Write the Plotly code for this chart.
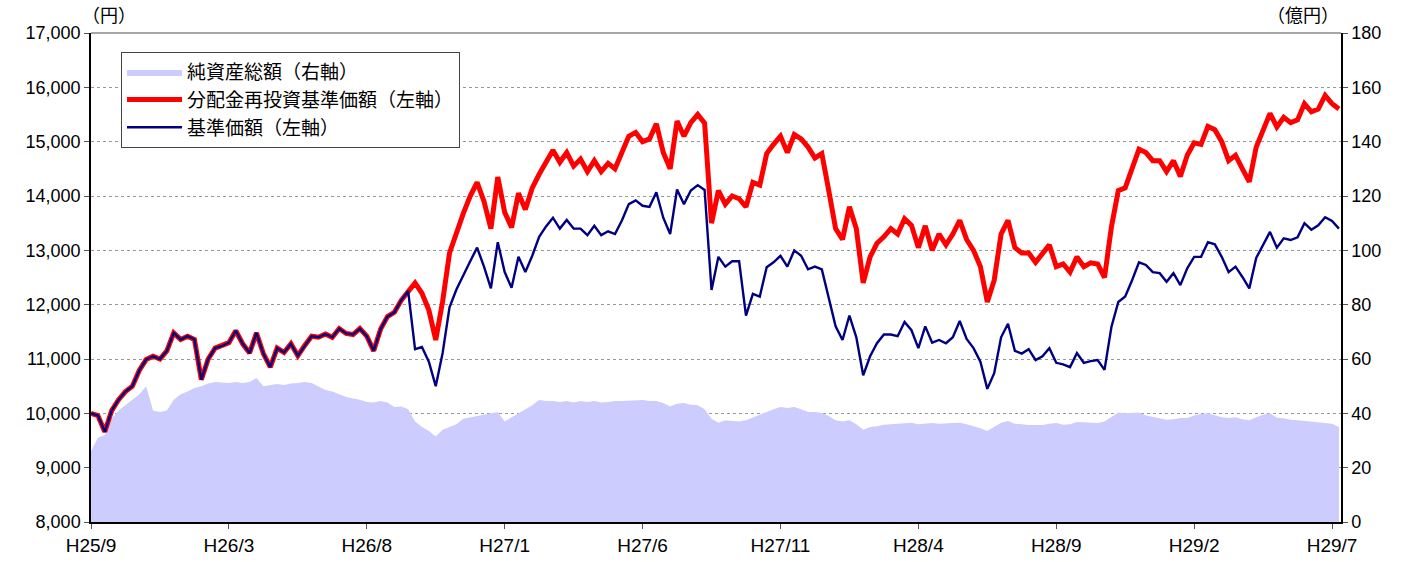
import plotly.graph_objects as go

tick_labels = ["H25/9", "H26/3", "H26/8", "H27/1", "H27/6", "H27/11", "H28/4", "H28/9", "H29/2", "H29/7"]
tick_index = [0, 20, 40, 60, 80, 100, 120, 140, 160, 180]

# 分配金再投資基準価額 (円)
reinvested = [
    10000, 9960, 9660, 10050, 10250, 10400, 10500, 10790, 10990, 11050,
    11000, 11150, 11480, 11360, 11420, 11360, 10620, 11000, 11200, 11240,
    11300, 11520, 11280, 11110, 11480, 11100, 10850, 11200, 11120, 11280,
    11060, 11250, 11420, 11400, 11460, 11400, 11560, 11470, 11450, 11560,
    11420, 11150, 11550, 11780, 11860, 12080, 12250, 12400, 12210, 11900,
    11350, 12060, 12950, 13350, 13680, 14000, 14250, 13900, 13400, 14350,
    13700, 13420, 14050, 13750, 14150, 14400, 14620, 14840, 14620, 14800,
    14550, 14680, 14450, 14650, 14450, 14600, 14500, 14780, 15100, 15170,
    15000, 15050, 15330, 14800, 14500, 15380, 15100, 15350, 15500, 15340,
    13500, 14100, 13850, 14000, 13950, 13800, 14250, 14200, 14780, 14950,
    15100, 14800, 15130, 15050, 14900, 14700, 14780, 14100, 13400, 13200,
    13800, 13400, 12400, 12880, 13130, 13250, 13400, 13300, 13580, 13460,
    13050, 13450, 13000, 13300, 13100, 13300, 13550, 13200, 13000, 12700,
    12050, 12450, 13300, 13550, 13050, 12950, 12950, 12780, 12950, 13100,
    12700, 12750, 12600, 12880, 12700, 12770, 12750, 12500, 13430, 14100,
    14150, 14530, 14860, 14800, 14650, 14650, 14450, 14650, 14360, 14750,
    14980, 14950, 15280, 15220, 15000, 14650, 14750, 14500, 14260, 14900,
    15200, 15520, 15270, 15450, 15350, 15400, 15700, 15550, 15600, 15850,
    15700, 15600,
]

# 基準価額 (円)
nav = [
    10000, 9960, 9660, 10050, 10250, 10400, 10500, 10790, 10990, 11050,
    11000, 11150, 11480, 11360, 11420, 11360, 10620, 11000, 11200, 11240,
    11300, 11520, 11280, 11110, 11480, 11100, 10850, 11200, 11120, 11280,
    11060, 11250, 11420, 11400, 11460, 11400, 11560, 11470, 11450, 11560,
    11420, 11150, 11550, 11780, 11860, 12080, 12250, 11180, 11220, 10950,
    10500, 11110, 11950, 12280, 12550, 12800, 13050, 12700, 12300, 13150,
    12600, 12310, 12880, 12600, 12900, 13250, 13440, 13600, 13400, 13560,
    13400, 13400, 13280, 13450, 13280, 13350, 13300, 13550, 13850, 13920,
    13820, 13800, 14070, 13600, 13300, 14120, 13850, 14100, 14200, 14110,
    12270, 12880, 12700, 12800, 12800, 11800, 12200, 12150, 12690, 12780,
    12900, 12700, 13000, 12900, 12650, 12700, 12650, 12100, 11600, 11350,
    11800, 11400, 10700, 11050, 11290, 11450, 11450, 11420, 11680, 11530,
    11200, 11600, 11300, 11350, 11290, 11400, 11700, 11370, 11200, 10950,
    10450, 10740, 11400, 11650, 11150, 11100, 11180, 10980, 11050, 11200,
    10930, 10900, 10850, 11110, 10930, 10960, 10980, 10800, 11590, 12050,
    12150, 12450, 12780, 12730, 12600, 12580, 12420, 12580, 12360, 12670,
    12880, 12880, 13150, 13110, 12880, 12600, 12700, 12510, 12300, 12860,
    13100, 13340, 13050, 13220, 13190, 13240, 13500, 13380, 13460, 13610,
    13540, 13400,
]

# 純資産総額 (億円)
net_assets = [
    26, 31, 32, 38, 41, 43, 45, 47, 50, 41,
    40.5, 41, 45, 47, 48, 49.3, 50, 51, 51.5, 51.3,
    51.2, 51.5, 51.2, 51.5, 53, 50, 50.5, 50.8, 50.4, 51,
    51.2, 51.5, 51.2, 50, 48.6, 48, 47, 46, 45.5, 45,
    44.2, 44, 44.5, 44, 42.3, 42.5, 41.5, 37, 35, 33.5,
    31.5, 34, 35, 36, 38, 38.5, 39, 39.5, 40, 40.5,
    37, 38.5, 40, 41.5, 43, 44.9, 44.5, 44.5, 44.2, 44.5,
    44, 44.5, 44.2, 44.5, 44, 44.2, 44.5, 44.5, 44.7, 44.9,
    44.9, 44.5, 44.5, 43.8, 42.5, 43.5, 43.8, 43.2, 43, 41.5,
    38, 36.5, 37.5, 37.2, 37, 37.5, 38.6, 39.5, 40.5, 41.5,
    42.3, 42, 42.3, 41.5, 40.5, 40.5, 40.1, 39, 37.5, 37,
    37.5, 36, 34, 35, 35.2, 35.8, 36, 36.2, 36.4, 36.5,
    36, 36.3, 36.4, 36.2, 36.4, 36.4, 36.5, 36, 35.2, 34.5,
    33.5, 35, 36.5, 37.2, 36.2, 36, 35.7, 35.7, 35.7, 36.2,
    36.4, 35.8, 36, 36.8, 36.6, 36.4, 36.4, 37, 38.8, 40.3,
    40, 40.1, 40.3, 39.2, 38.6, 38.2, 37.6, 37.8, 38.3, 38.3,
    39.2, 39.8, 40.1, 39.3, 38.6, 38.3, 38.6, 37.8, 37.5, 38.6,
    39.5, 40, 38.4, 38.2, 37.6, 37.5, 37.2, 36.8, 36.6, 36.4,
    36.2, 35,
]

x = list(range(len(nav)))

FONT = "Liberation Sans, Arial, Noto Sans CJK JP, sans-serif"
JP = "Noto Sans CJK JP, sans-serif"

fig = go.Figure()
fig.add_trace(go.Scatter(
    x=x, y=net_assets, name="純資産総額（右軸）", yaxis="y",
    mode="lines", line=dict(width=0, color="#CCCCFF"),
    fill="tozeroy", fillcolor="#CCCCFF",
))
fig.add_trace(go.Scatter(
    x=x, y=reinvested, name="分配金再投資基準価額（左軸）", yaxis="y2",
    mode="lines", line=dict(width=5, color="#FF0000"),
))
fig.add_trace(go.Scatter(
    x=x, y=nav, name="基準価額（左軸）", yaxis="y2",
    mode="lines", line=dict(width=2.4, color="#000080"),
))

fig.update_layout(
    width=1411, height=562,
    margin=dict(l=91, r=70, t=33, b=40, autoexpand=False),
    paper_bgcolor="white", plot_bgcolor="white",
    font=dict(family=FONT, size=18, color="black"),
    showlegend=True,
    legend=dict(
        x=0.024, y=0.961, xanchor="left", yanchor="top",
        bgcolor="white", bordercolor="#444", borderwidth=1,
        font=dict(family=JP, size=19, color="black"),
        itemwidth=55, tracegroupgap=0,
    ),
    xaxis=dict(
        range=[0, 181.3], tickvals=tick_index, ticktext=tick_labels,
        showgrid=False, zeroline=False, automargin=False,
        showline=True, linecolor="black", linewidth=1.5,
        ticks="outside", ticklen=5, tickcolor="#555",
        tickfont=dict(family="Liberation Sans Narrow, Liberation Sans, Arial", size=19),
    ),
    yaxis=dict(
        side="right", range=[0, 180], dtick=20, automargin=False,
        showgrid=True, gridcolor="#999", griddash="dot", gridwidth=1,
        zeroline=False, showline=True, linecolor="black", linewidth=1.5,
        ticks="outside", ticklen=5, tickcolor="#555",
    ),
    yaxis2=dict(
        side="left", overlaying="y", range=[8000, 17000], dtick=1000,
        tickformat=",d", showgrid=False, zeroline=False, automargin=False,
        showline=True, linecolor="black", linewidth=1.5,
        ticks="outside", ticklen=5, tickcolor="#555",
    ),
    shapes=[dict(type="line", xref="paper", yref="paper", x0=0, x1=1, y0=1, y1=1,
                 line=dict(color="#888", width=1.5))],
    annotations=[
        dict(text="（円）", xref="paper", yref="paper", x=0.0, y=1.0, yshift=19,
             xanchor="center", yanchor="middle", showarrow=False, xshift=18,
             font=dict(family=JP, size=18)),
        dict(text="（億円）", xref="paper", yref="paper", x=1.0, y=1.0, yshift=19,
             xanchor="right", yanchor="middle", showarrow=False,
             font=dict(family=JP, size=18)),
    ],
)

fig.write_html(
    "out.html",
    config={"displayModeBar": False},
    post_script="document.body.style.margin='0';document.body.style.overflow='hidden';",
)
